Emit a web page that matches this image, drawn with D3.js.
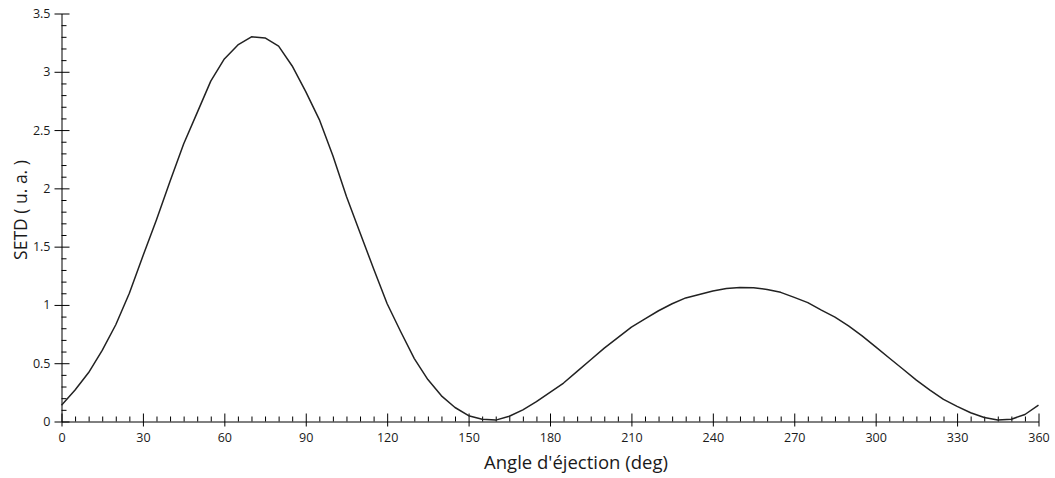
<!DOCTYPE html>
<html>
<head>
<meta charset="utf-8">
<script src="https://cdn.jsdelivr.net/npm/d3@7"></script>
<style>
  html, body { margin: 0; padding: 0; background: #fff; }
  svg { display: block; }
  text { font-family: "Open Sans", "Noto Sans", sans-serif; fill: #1a1a1a; }
</style>
</head>
<body>
<svg id="chart" width="1055" height="478"></svg>
<script>
// Ejection angle (deg), sampled every 5 degrees
const angles = d3.range(0, 361, 5);
// SETD (arbitrary units) at each angle
const setd = [
  0.14, 0.27, 0.42, 0.61, 0.83, 1.10, 1.42, 1.73, 2.06, 2.38,
  2.65, 2.92, 3.11, 3.23, 3.30, 3.29, 3.22, 3.05, 2.83, 2.59,
  2.28, 1.93, 1.62, 1.31, 1.01, 0.77, 0.54, 0.36, 0.22, 0.12,
  0.05, 0.02, 0.012, 0.045, 0.10, 0.17, 0.25, 0.33, 0.43, 0.53,
  0.63, 0.72, 0.81, 0.88, 0.95, 1.01, 1.06, 1.09, 1.12, 1.14,
  1.15, 1.148, 1.133, 1.108, 1.065, 1.02, 0.955, 0.895, 0.82, 0.735,
  0.64, 0.545, 0.45, 0.355, 0.27, 0.19, 0.13, 0.075, 0.035, 0.013,
  0.02, 0.06, 0.14
];
const xMajorTicks = d3.range(0, 361, 30);
const xMinorTicks = d3.range(0, 361, 5).filter(d => d % 30 !== 0);
const yMajorTicks = d3.range(0, 3.51, 0.5).map(d => +d.toFixed(1));
const yMinorTicks = d3.range(0, 3.51, 0.1).map(d => +d.toFixed(1))
  .filter(d => Math.abs(d * 2 - Math.round(d * 2)) > 1e-6);

const svg = d3.select("#chart");
const x = d3.scaleLinear().domain([0, 360]).range([61.5, 1038.5]);
const y = d3.scaleLinear().domain([0, 3.5]).range([421.5, 13.5]);

// Minor ticks (inside the plot)
const xMinor = svg.append("g").attr("transform", `translate(0,${y(0)})`)
  .call(d3.axisBottom(x).tickValues(xMinorTicks).tickSize(-5).tickFormat(""));
xMinor.select(".domain").remove();

const yMinor = svg.append("g").attr("transform", `translate(${x(0)},0)`)
  .call(d3.axisLeft(y).tickValues(yMinorTicks).tickSize(-5).tickFormat(""));
yMinor.select(".domain").remove();

// Major axes
const xAxis = svg.append("g").attr("transform", `translate(0,${y(0)})`)
  .call(d3.axisBottom(x).tickValues(xMajorTicks).tickSize(5).tickSizeOuter(0).tickPadding(7));
xAxis.selectAll(".tick line").attr("y1", -8);

const yAxis = svg.append("g").attr("transform", `translate(${x(0)},0)`)
  .call(d3.axisLeft(y).tickValues(yMajorTicks).tickSize(7).tickSizeOuter(0).tickPadding(4)
    .tickFormat(d => d3.format("~g")(d)));
yAxis.selectAll(".tick line").attr("x1", 8);

svg.selectAll(".domain, .tick line").attr("stroke", "#000").attr("stroke-width", 1);
svg.selectAll(".tick text")
  .style("font-family", "'Open Sans', sans-serif")
  .style("font-size", "12.5px")
  .attr("fill", "#1a1a1a");

// Curve
const line = d3.line().x((d, i) => x(angles[i])).y(d => y(d));
svg.append("path")
  .datum(setd)
  .attr("d", line)
  .attr("fill", "none")
  .attr("stroke", "#222")
  .attr("stroke-width", 1.5)
  .attr("stroke-linejoin", "round");

// Axis titles
svg.append("text")
  .attr("x", 576).attr("y", 469)
  .attr("text-anchor", "middle")
  .style("font-size", "18.5px")
  .text("Angle d'éjection (deg)");

svg.append("text")
  .attr("transform", "translate(27,210) rotate(-90)")
  .attr("text-anchor", "middle")
  .style("font-size", "17.5px")
  .text("SETD ( u. a. )");
</script>
</body>
</html>
